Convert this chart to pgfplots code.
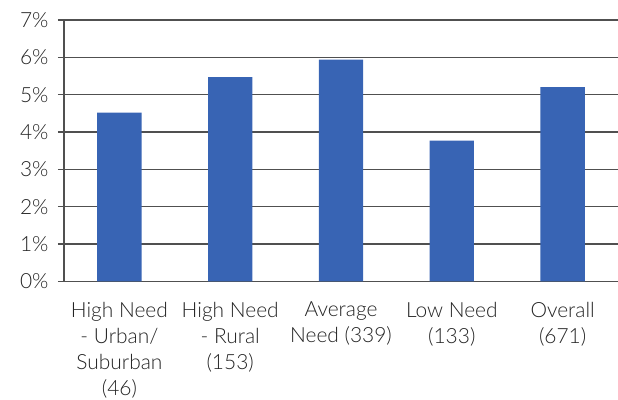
\documentclass[border=0pt]{standalone}
\usepackage{fontspec}
\setmainfont{Lato}[UprightFont=* Light]
\usepackage{pgfplots}
\pgfplotsset{compat=1.18}
\definecolor{barblue}{RGB}{56,100,180}
\definecolor{gridgray}{RGB}{80,80,80}
\definecolor{txtgray}{RGB}{35,35,35}
\begin{document}
\begin{tikzpicture}
\begin{axis}[
  scale only axis,
  width=554bp, height=261.3bp,
  xmin=-0.5, xmax=4.5,
  ymin=0, ymax=7,
  axis x line*=bottom,
  axis y line*=left,
  axis line style={gridgray, line width=1.2bp},
  ytick={0,1,...,7},
  yticklabel={\pgfmathprintnumber{\tick}\%},
  /pgf/number format/assume math mode=true,
  ymajorgrids,
  grid style={gridgray, line width=1.2bp},
  tick align=outside,
  major tick length=6bp,
  ytick style={gridgray, line width=1.2bp},
  xtick={0,1,2,3,4},
  xticklabels={{High Need\\- Urban/\\Suburban\\(46)},{High Need\\- Rural\\(153)},{Average\\Need (339)},{Low Need\\(133)},{Overall\\(671)}},
  xtick style={draw=none},
  minor xtick={-0.5,0.5,1.5,2.5,3.5,4.5},
  minor tick length=6bp,
  minor x tick style={gridgray, line width=1.2bp},
  ticklabel style={font=\fontsize{21}{26.2}\selectfont, text=txtgray},
  xticklabel style={align=center, yshift=-11bp},
  yticklabel style={xshift=-6bp},
  enlarge x limits=false,
  clip=false,
]
\addplot[ybar, bar width=0.4, fill=barblue, draw=none] coordinates {
  (0,4.52) (1,5.47) (2,5.94) (3,3.77) (4,5.20)
};
\end{axis}
\pgfresetboundingbox
\path (-64bp,-118bp) rectangle (554bp,281.3bp);
\end{tikzpicture}
\end{document}
